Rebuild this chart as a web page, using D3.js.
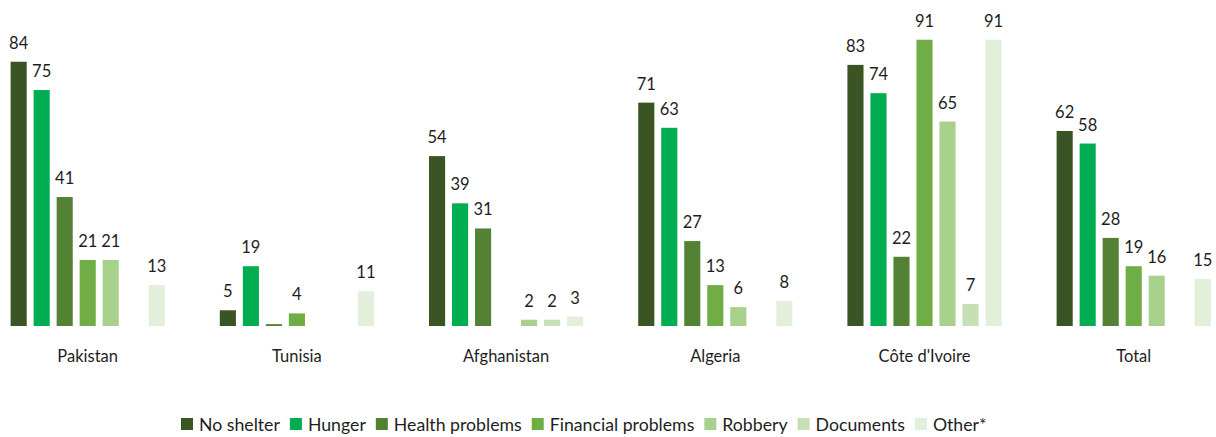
<!DOCTYPE html>
<html>
<head>
<meta charset="utf-8">
<script src="https://cdn.jsdelivr.net/npm/d3@7"></script>
<style>
  html, body { margin: 0; padding: 0; background: #fff; }
  svg { display: block; font-family: Lato, "Open Sans", sans-serif; }
</style>
</head>
<body>
<svg id="chart" width="1216" height="437"></svg>
<script>
// Share of respondents reporting each problem, by country of origin (%)
const countries = ["Pakistan", "Tunisia", "Afghanistan", "Algeria", "Côte d'Ivoire", "Total"];
const seriesNames = ["No shelter", "Hunger", "Health problems", "Financial problems", "Robbery", "Documents", "Other*"];
const seriesColors = ["#3a5424", "#00ad50", "#548235", "#70ad47", "#a9d18e", "#c5e0b4", "#e2efda"];

// One array per series, ordered like `countries`; null = no bar
const noShelter   = [84, 5, 54, 71, 83, 62];
const hunger      = [75, 19, 39, 63, 74, 58];
const health      = [41, 0.6, 31, 27, 22, 28];
const financial   = [21, 4, null, 13, 91, 19];
const robbery     = [21, null, 2, 6, 65, 16];
const documents   = [null, null, 2, null, 7, null];
const other       = [13, 11, 3, 8, 91, 15];

const seriesValues = [noShelter, hunger, health, financial, robbery, documents, other];

const svg = d3.select("#chart");

const baseY = 326;
const y = d3.scaleLinear().domain([0, 100]).range([baseY, baseY - 314.6]);

const x0 = d3.scaleBand()
  .domain(countries)
  .range([-16.9, 1238.3])
  .paddingInner(0.23)
  .paddingOuter(0.115);

const x1 = d3.scaleBand()
  .domain(seriesNames)
  .range([0, x0.bandwidth()])
  .paddingInner(0.3)
  .paddingOuter(0.15);

const color = d3.scaleOrdinal().domain(seriesNames).range(seriesColors);

const rows = [];
countries.forEach((c, ci) => {
  seriesNames.forEach((s, si) => {
    const v = seriesValues[si][ci];
    if (v !== null) rows.push({ country: c, series: s, value: v });
  });
});

svg.append("g").attr("class", "bars")
  .selectAll("rect")
  .data(rows)
  .join("rect")
  .attr("x", d => x0(d.country) + x1(d.series))
  .attr("y", d => y(d.value))
  .attr("width", x1.bandwidth())
  .attr("height", d => y(0) - y(d.value))
  .attr("fill", d => color(d.series));

// value labels (values under 1 are left unlabelled)
svg.append("g").attr("class", "values")
  .selectAll("text")
  .data(rows.filter(d => d.value >= 1))
  .join("text")
  .attr("x", d => x0(d.country) + x1(d.series) + x1.bandwidth() / 2)
  .attr("y", d => y(d.value) - 13)
  .attr("text-anchor", "middle")
  .attr("font-size", 16.5)
  .attr("fill", "#1e1e1e")
  .text(d => d3.format("d")(d.value));

// category axis labels
const xAxis = d3.axisBottom(x0).tickSize(0).tickPadding(0);
const axisG = svg.append("g")
  .attr("transform", `translate(0,${baseY})`)
  .call(xAxis);
axisG.select(".domain").remove();
axisG.selectAll("text")
  .attr("dy", 0)
  .attr("y", 36)
  .attr("font-size", 16.5)
  .attr("font-family", "Lato, 'Open Sans', sans-serif")
  .attr("fill", "#1e1e1e");

// legend
const legend = svg.append("g").attr("class", "legend");
let lx = 181;
const ly = 425;
seriesNames.forEach(name => {
  const item = legend.append("g");
  item.append("rect")
    .attr("x", lx)
    .attr("y", ly - 7)
    .attr("width", 12)
    .attr("height", 12)
    .attr("fill", color(name));
  const t = item.append("text")
    .attr("x", lx + 18)
    .attr("y", ly + 6)
    .attr("font-size", 17.7)
    .attr("fill", "#1e1e1e")
    .text(name);
  lx += 18 + t.node().getComputedTextLength() + 10;
});
</script>
</body>
</html>
